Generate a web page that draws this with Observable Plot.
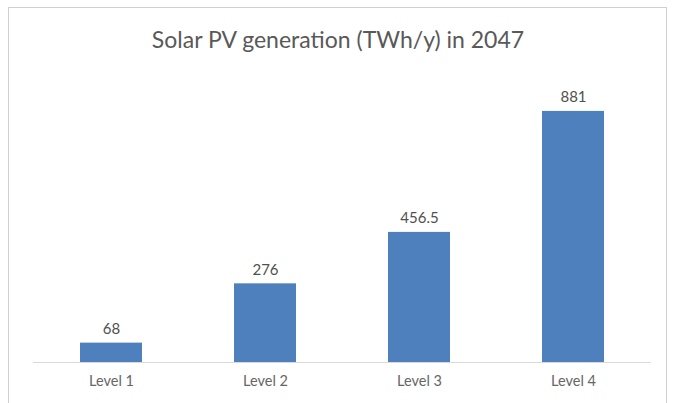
<!DOCTYPE html>
<html><head><meta charset="utf-8">
<script src="https://cdn.jsdelivr.net/npm/d3@7"></script>
<script src="https://cdn.jsdelivr.net/npm/@observablehq/plot@0.6"></script>
<style>
html,body{margin:0;padding:0;background:#fff;}
#wrap{position:relative;width:676px;height:403px;overflow:hidden;font-family:Lato,"Open Sans",sans-serif;}
#frame{position:absolute;left:8px;top:7px;width:659px;height:420px;border:1px solid #d0d0d0;box-sizing:border-box;pointer-events:none;}
#title{position:absolute;left:0;top:24px;width:676px;text-align:center;font-size:23px;color:#595959;line-height:30px;}
#chart{position:absolute;left:0;top:70px;}
</style></head>
<body>
<div id="wrap"><div id="frame"></div><div id="title">Solar PV generation (TWh/y) in 2047</div><div id="chart"></div></div>
<script>
const categories = ["Level 1", "Level 2", "Level 3", "Level 4"];
const values = [68, 276, 456.5, 881];
const labels = ["68", "276", "456.5", "881"];
const data = categories.map((c, i) => ({category: c, value: values[i], label: labels[i]}));

const chart = Plot.plot({
  width: 676,
  height: 333,
  marginTop: 7,
  marginBottom: 41,
  marginLeft: 33,
  marginRight: 25,
  style: {fontFamily: "Lato, 'Open Sans', sans-serif", background: "transparent", overflow: "visible"},
  x: {domain: categories, paddingInner: 0.6, paddingOuter: 0.3, align: 0.5},
  y: {domain: [0, 1000], axis: null},
  marks: [
    Plot.barY(data, {x: "category", y: "value", fill: "#4e80bd"}),
    Plot.ruleY([0], {stroke: "#d9d9d9", strokeWidth: 1}),
    Plot.text(data, {x: "category", y: "value", text: "label", dy: -9, lineAnchor: "bottom", fontSize: 15, fill: "#505050"}),
    Plot.axisX({tickSize: 0, tickPadding: 13, fontSize: 14.5, color: "#666666", label: null})
  ]
});
document.getElementById("chart").appendChild(chart);
</script>
</body></html>
